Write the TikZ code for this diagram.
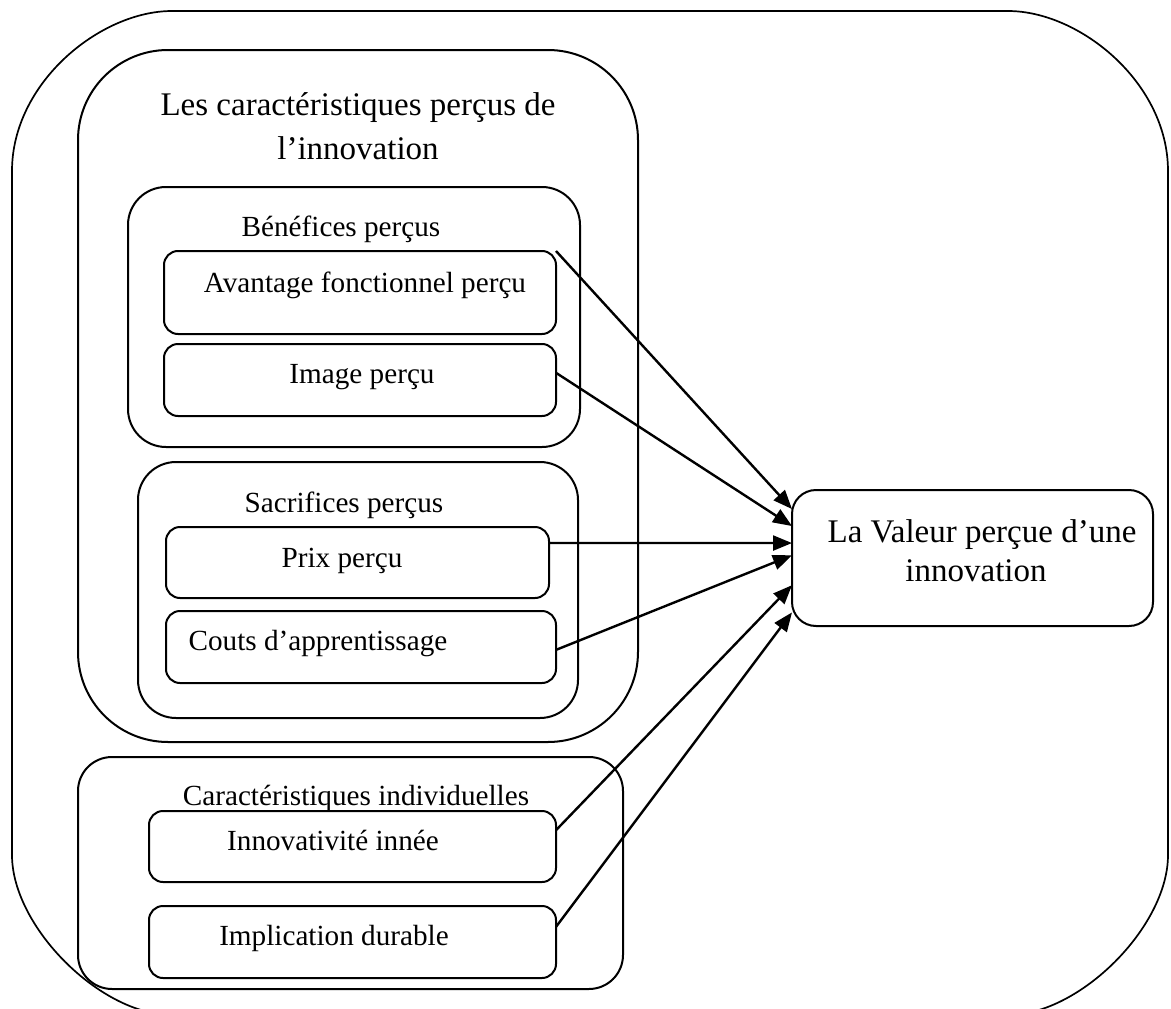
\documentclass[tikz,border=0pt]{standalone}
\usepackage{fontspec}
\setmainfont{Liberation Serif}
\usetikzlibrary{arrows.meta,calc}
\begin{document}
\begin{tikzpicture}[x=1pt,y=-1pt,
  box/.style={draw, line width=2pt, rounded corners=#1, inner sep=0pt, outer sep=0pt},
  txts/.style={inner sep=0pt, anchor=base, font=\fontsize{29.2}{34}\selectfont},
  txtl/.style={inner sep=0pt, anchor=base, font=\fontsize{33}{40}\selectfont},
  arr/.style={line width=2.4pt, -{Triangle[length=19pt,width=15pt]}}
]
\useasboundingbox (0,0) rectangle (1171,1009);
\clip (0,0) rectangle (1171,1009);
% outer frame
\draw[line width=1.7pt] (12,171) .. controls (12,82.6) and (100.4,11) .. (172,11) -- (1008,11)
  .. controls (1079.6,11) and (1168,82.6) .. (1168,171) -- (1168,855)
  .. controls (1168,926.6) and (1079.6,1015) .. (1008,1015) -- (172,1015)
  .. controls (100.4,1015) and (12,926.6) .. (12,855) -- cycle;
% group boxes
\node[box=90pt, minimum width=560pt, minimum height=692pt] (A) at (358,396) {};
\node[box=38pt, minimum width=452pt, minimum height=260pt] (B) at (354,317) {};
\node[box=14pt, minimum width=392pt, minimum height=83pt] (avant) at (360,292.5) {};
\node[box=14pt, minimum width=392pt, minimum height=72pt] (img) at (360,380) {};
\node[box=38pt, minimum width=440pt, minimum height=256pt] (S) at (358,590) {};
\node[box=14pt, minimum width=383pt, minimum height=71pt] (prix) at (357.5,562.5) {};
\node[box=14pt, minimum width=390pt, minimum height=72pt] (couts) at (361,647) {};
\node[box=34pt, minimum width=545pt, minimum height=232pt] (C) at (350.5,873) {};
\node[box=14pt, minimum width=407pt, minimum height=71pt] (innov) at (352.5,846.5) {};
\node[box=14pt, minimum width=407pt, minimum height=72pt] (impl) at (352.5,942) {};
\node[box=24pt, minimum width=361pt, minimum height=136pt] (val) at (972.5,558) {};
% texts
\node[txtl] (tA1) at (358,115) {Les caractéristiques perçus de};
\node[txtl] (tA2) at (358,159) {l’innovation};
\node[txts] (tB) at (341,236) {Bénéfices perçus};
\node[txts] (tavant) at (365,292) {Avantage fonctionnel perçu};
\node[txts] (timg) at (362,383) {Image perçu};
\node[txts] (tS) at (344,512) {Sacrifices perçus};
\node[txts] (tprix) at (342,567) {Prix perçu};
\node[txts] (tcouts) at (318,650) {Couts d’apprentissage};
\node[txts] (tC) at (356,805) {Caractéristiques individuelles};
\node[txts] (tinnov) at (333,850) {Innovativité innée};
\node[txts] (timpl) at (334,945) {Implication durable};
\node[txtl] (tval1) at (982,542) {La Valeur perçue d’une};
\node[txtl] (tval2) at (976,581) {innovation};
% arrows
\draw[arr] (avant.north east) -- ($(val.north west)!0.14!(val.south west)$);
\draw[arr] ($(img.north east)!0.4!(img.south east)$) -- ($(val.north west)!0.265!(val.south west)$);
\draw[arr] ($(prix.north east)!0.225!(prix.south east)$) -- ($(val.north west)!0.39!(val.south west)$);
\draw[arr] ($(couts.north east)!0.54!(couts.south east)$) -- ($(val.north west)!0.48!(val.south west)$);
\draw[arr] ($(innov.north east)!0.27!(innov.south east)$) -- ($(val.north west)!0.70!(val.south west)$);
\draw[arr] ($(impl.north east)!0.29!(impl.south east)$) -- ($(val.north west)!0.90!(val.south west)$);
\end{tikzpicture}
\end{document}
